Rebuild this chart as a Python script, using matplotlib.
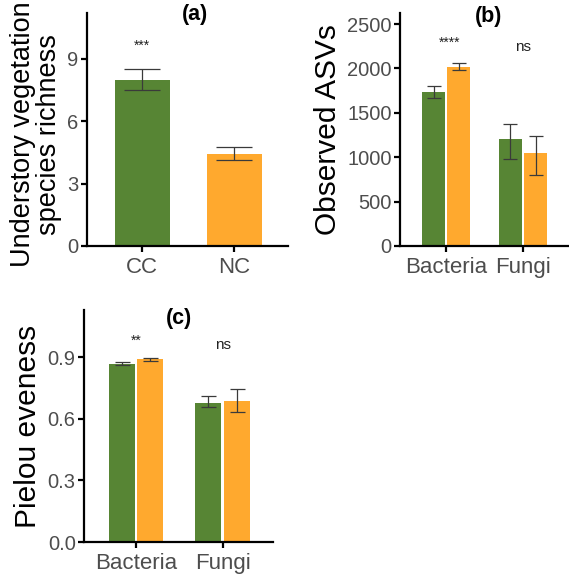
import numpy as np
import matplotlib.pyplot as plt

plt.rcParams['font.family'] = ['Liberation Sans', 'DejaVu Sans']

green = '#578534'
orange = '#FFA92E'
tickgray = '#4D4D4D'

# (a) understory richness
a_groups = ['CC', 'NC']
a_mean = [8.0, 4.40]
a_lo = [7.50, 4.13]
a_hi = [8.49, 4.77]
a_sig = '***'

# (b) observed ASVs
kingdoms = ['Bacteria', 'Fungi']
b_cc = [1738, 1208]
b_cc_lo = [1670, 980]
b_cc_hi = [1798, 1377]
b_nc = [2016, 1047]
b_nc_lo = [1982, 803]
b_nc_hi = [2057, 1239]
b_sig = ['****', 'ns']

# (c) pielou evenness
c_cc = [0.867, 0.677]
c_cc_lo = [0.862, 0.656]
c_cc_hi = [0.877, 0.712]
c_nc = [0.890, 0.685]
c_nc_lo = [0.883, 0.632]
c_nc_hi = [0.896, 0.744]
c_sig = ['**', 'ns']


def style(ax, ylim, yticks, ylabels):
	for s in ['top', 'right']:
		ax.spines[s].set_visible(False)
	for s in ['left', 'bottom']:
		ax.spines[s].set_linewidth(1.6)
		ax.spines[s].set_color('black')
	ax.set_ylim(*ylim)
	ax.set_xlim(0.4, 2.58)
	ax.set_yticks(yticks)
	ax.set_yticklabels(ylabels)
	ax.tick_params(axis='both', length=4, width=1.6, color='black',
		labelcolor=tickgray)
	ax.tick_params(axis='y', labelsize=14.5, pad=2)
	ax.tick_params(axis='x', labelsize=16, pad=4)


def err(mean, lo, hi):
	m = np.array(mean)
	return [m - np.array(lo), np.array(hi) - m]


fig = plt.figure(figsize=(5.69, 5.80), dpi=100)

# panel a
ax = fig.add_axes([0.1529, 0.5759, 0.353, 0.4017])
x = np.arange(1, 3)
ax.bar(x, a_mean, width=0.6, color=[green, orange])
ax.errorbar(x, a_mean, yerr=err(a_mean, a_lo, a_hi), fmt='none',
	ecolor='#3a3a3a', elinewidth=0.9, capsize=13, capthick=0.9)
style(ax, (0, 11.2), [0, 3, 6, 9], ['0', '3', '6', '9'])
ax.set_xticks(x)
ax.set_xticklabels(a_groups)
ax.text(1, 9.6, a_sig, ha='center', va='center', fontsize=10, color='#222222')
ax.text(1.57, 11.15, '(a)', ha='center', va='center', fontsize=15.5, fontweight='bold')
ax.set_ylabel('Understory vegetation\nspecies richness', fontsize=19.5, linespacing=1.0)
ax.yaxis.set_label_coords(-0.125, 0.48)

# panel b
ax = fig.add_axes([0.703, 0.5759, 0.295, 0.4017])
w = 0.3
off = 0.165
ax.bar(x - off, b_cc, width=w, color=green)
ax.bar(x + off, b_nc, width=w, color=orange)
ax.errorbar(x - off, b_cc, yerr=err(b_cc, b_cc_lo, b_cc_hi), fmt='none',
	ecolor='#3a3a3a', elinewidth=0.9, capsize=4.7, capthick=0.9)
ax.errorbar(x + off, b_nc, yerr=err(b_nc, b_nc_lo, b_nc_hi), fmt='none',
	ecolor='#3a3a3a', elinewidth=0.9, capsize=4.7, capthick=0.9)
style(ax, (0, 2624), [0, 500, 1000, 1500, 2000, 2500],
	['0', '500', '1000', '1500', '2000', '2500'])
ax.set_xticks(x)
ax.set_xticklabels(kingdoms)
ax.text(1.05, 2290, b_sig[0], ha='center', va='center', fontsize=10, color='#222222')
ax.text(2, 2240, b_sig[1], ha='center', va='center', fontsize=11, color='#222222')
ax.text(1.55, 2590, '(b)', ha='center', va='center', fontsize=15.5, fontweight='bold')
ax.set_ylabel('Observed ASVs', fontsize=21.5, labelpad=4)

# panel c
ax = fig.add_axes([0.1476, 0.0655, 0.332, 0.40])
ax.bar(x - off, c_cc, width=w, color=green)
ax.bar(x + off, c_nc, width=w, color=orange)
ax.errorbar(x - off, c_cc, yerr=err(c_cc, c_cc_lo, c_cc_hi), fmt='none',
	ecolor='#3a3a3a', elinewidth=0.9, capsize=5.4, capthick=0.9)
ax.errorbar(x + off, c_nc, yerr=err(c_nc, c_nc_lo, c_nc_hi), fmt='none',
	ecolor='#3a3a3a', elinewidth=0.9, capsize=5.4, capthick=0.9)
style(ax, (0, 1.13), [0, 0.3, 0.6, 0.9], ['0.0', '0.3', '0.6', '0.9'])
ax.set_xticks(x)
ax.set_xticklabels(kingdoms)
ax.text(1, 0.98, c_sig[0], ha='center', va='center', fontsize=10, color='#222222')
ax.text(2, 0.96, c_sig[1], ha='center', va='center', fontsize=11, color='#222222')
ax.text(1.5, 1.09, '(c)', ha='center', va='center', fontsize=15.5, fontweight='bold')
ax.set_ylabel('Pielou eveness', fontsize=21.5, labelpad=4)

fig.savefig('out.png', dpi=100)
